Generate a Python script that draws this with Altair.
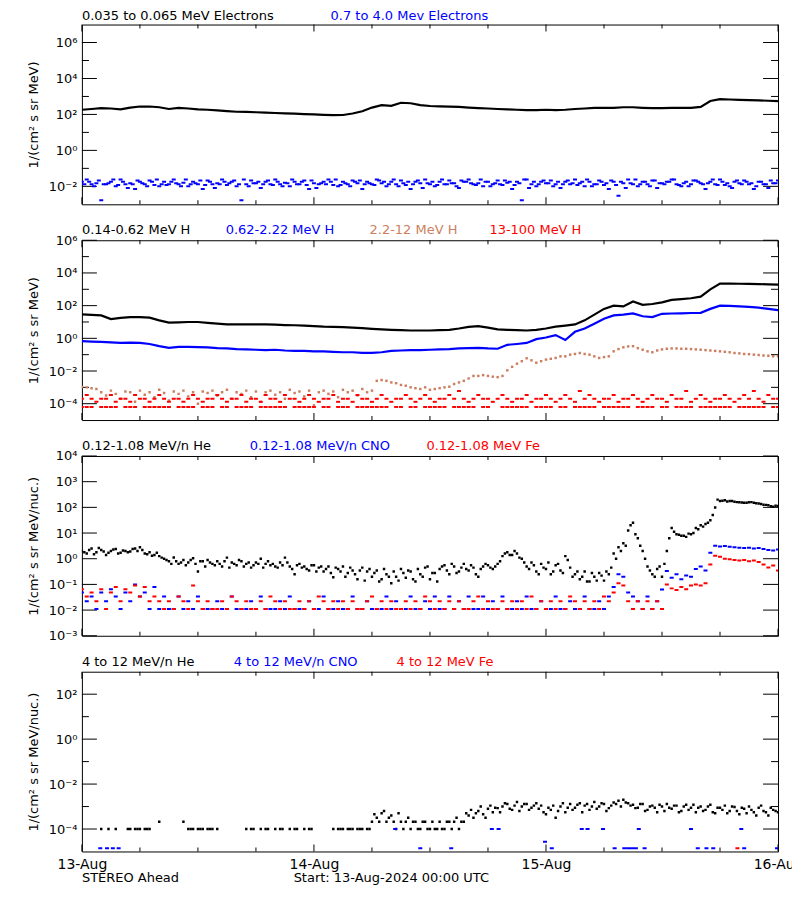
import altair as alt
import pandas as pd

# ---------------- time bases (hours after 13-Aug-2024 00:00 UTC) ----------------
HOURS = list(range(73))
HALF = [i * 0.5 for i in range(145)]
HALF_B = [i * 0.5 + 0.25 for i in range(144)]

# ---------------- panel 1 : electrons ----------------
e_lo = [182, 200, 224, 214, 190, 240, 275, 275, 251, 200, 229, 214, 190, 182, 166, 151, 141, 138, 132, 126,
        120, 115, 110, 105, 100, 95, 91, 93, 112, 151, 240, 331, 302, 447, 417, 331, 295, 282, 275, 263,
        240, 224, 214, 200, 190, 182, 174, 174, 182, 174, 182, 200, 214, 229, 229, 234, 251, 251, 234, 224,
        224, 229, 229, 234, 263, 562, 708, 676, 646, 631, 603, 575, 550]
e_hi = [0.018, 0.024, 0.013, 0.015, 0.0017, 0.013, 0.018, 0.010, 0.024, 0.013, 0.015, 0.007, 0.018, 0.013, 0.021, 0.012, 0.010, 0.018, 0.013, 0.024,
        0.013, 0.016, 0.010, 0.018, 0.013, 0.007, 0.021, 0.013, 0.015, 0.024, 0.012, 0.018, 0.010, 0.0017, 0.013, 0.021, 0.015, 0.008, 0.018, 0.013,
        0.024, 0.013, 0.016, 0.010, 0.018, 0.013, 0.021, 0.007, 0.015, 0.013, 0.018, 0.024, 0.012, 0.010, 0.018, 0.013, 0.021, 0.015, 0.007, 0.018,
        0.013, 0.024, 0.015, 0.010, 0.018, 0.013, 0.021, 0.012, 0.007, 0.018, 0.015, 0.024, 0.013, 0.010, 0.018, 0.013, 0.021, 0.015, 0.008, 0.018,
        0.024, 0.013, 0.015, 0.010, 0.018, 0.013, 0.021, 0.012, 0.016, 0.007, 0.018, 0.0017, 0.024, 0.013, 0.010, 0.018, 0.015, 0.021, 0.013, 0.008,
        0.018, 0.013, 0.024, 0.015, 0.010, 0.018, 0.013, 0.021, 0.012, 0.007, 0.018, 0.003, 0.015, 0.024, 0.013, 0.010, 0.018, 0.013, 0.021, 0.008,
        0.015, 0.018, 0.024, 0.013, 0.010, 0.018, 0.013, 0.021, 0.015, 0.007, 0.018, 0.013, 0.024, 0.012, 0.010, 0.018, 0.015, 0.021, 0.013, 0.007,
        0.018, 0.013, 0.008, 0.015, 0.021]
e_hi_b = [0.013, 0.018, 0.010, 0.021, 0.013, 0.015, 0.024, 0.012, 0.018, 0.008, 0.013, 0.021, 0.015, 0.010, 0.018, 0.024, 0.013, 0.012, 0.018, 0.015,
          0.010, 0.024, 0.013, 0.015, 0.021, 0.012, 0.018, 0.008, 0.013, 0.018, 0.015, 0.021, 0.013, 0.024, 0.010, 0.015, 0.018, 0.013, 0.021, 0.012,
          0.018, 0.010, 0.015, 0.024, 0.013, 0.018, 0.012, 0.021, 0.008, 0.015, 0.013, 0.018, 0.024, 0.012, 0.015, 0.010, 0.018, 0.021, 0.013, 0.015,
          0.012, 0.021, 0.018, 0.013, 0.024, 0.010, 0.015, 0.018, 0.013, 0.021, 0.008, 0.015, 0.018, 0.012, 0.024, 0.013, 0.015, 0.010, 0.021, 0.018,
          0.015, 0.012, 0.024, 0.018, 0.010, 0.015, 0.013, 0.021, 0.018, 0.012, 0.015, 0.024, 0.008, 0.018, 0.013, 0.021, 0.015, 0.010, 0.018, 0.013,
          0.021, 0.015, 0.012, 0.018, 0.024, 0.010, 0.013, 0.018, 0.015, 0.021, 0.012, 0.018, 0.008, 0.015, 0.024, 0.013, 0.018, 0.010, 0.021, 0.015,
          0.013, 0.018, 0.024, 0.012, 0.015, 0.010, 0.021, 0.018, 0.013, 0.015, 0.024, 0.012, 0.018, 0.015, 0.008, 0.021, 0.013, 0.018, 0.015, 0.010,
          0.018, 0.013, 0.021, 0.015]

# ---------------- panel 2 : protons ----------------
h_014 = [28.8, 27.5, 25.1, 15.1, 17.8, 20.0, 20.0, 18.6, 12.6, 9.1, 9.5, 10, 10, 8.9, 7.9, 7.2, 7.1, 7.1, 7.2, 7.1,
         6.8, 6.5, 6.3, 6.0, 5.6, 5.2, 5.0, 4.8, 4.5, 4.2, 3.8, 3.5, 3.3, 3.2, 3.0, 3.0, 3.0, 3.2, 3.3, 4.0,
         5.0, 5.5, 4.5, 3.5, 3.3, 3.2, 3.0, 3.3, 4.0, 5.2, 6.0, 7.1, 12.6, 28.2, 63, 100, 89, 178, 112, 126,
         158, 224, 251, 282, 355, 1000, 2239, 2239, 2188, 2138, 2089, 1995, 1950]
h_062 = [0.68, 0.63, 0.60, 0.56, 0.52, 0.55, 0.52, 0.45, 0.33, 0.26, 0.30, 0.30, 0.29, 0.28, 0.25, 0.24, 0.22, 0.21, 0.20, 0.19,
         0.20, 0.18, 0.17, 0.17, 0.16, 0.16, 0.15, 0.14, 0.14, 0.13, 0.13, 0.14, 0.17, 0.18, 0.19, 0.19, 0.20, 0.21, 0.22, 0.24,
         0.25, 0.26, 0.24, 0.23, 0.40, 0.45, 0.52, 0.89, 1.12, 1.58, 0.79, 2.5, 4.0, 7.9, 15.8, 25.1, 28.2, 33.1, 22.4, 20.0,
         31.6, 33.1, 33.9, 35.5, 36.3, 63.1, 100, 97.7, 91.2, 83.2, 75.9, 63.1, 52.5]
h_22 = [1.05e-3, 1.0e-3, 8.9e-4, 7.9e-4,
        5.0e-4, 3.2e-4, 6.3e-4, 4.0e-4, 2.0e-4, 5.6e-4, 5.0e-4, 1.3e-4, 6.3e-4, 3.5e-4,
        5.0e-4, 2.5e-4, 7.1e-4, 4.5e-4, 1.6e-4, 5.6e-4, 4.0e-4, 6.3e-4, 2.8e-4, 5.0e-4,
        1.0e-4, 5.6e-4, 4.5e-4, 6.3e-4, 3.2e-4, 5.0e-4, 7.1e-4, 2.0e-4, 5.0e-4, 4.0e-4,
        6.3e-4, 2.5e-4, 5.6e-4, 1.3e-4, 5.0e-4, 6.3e-4, 3.5e-4, 5.0e-4, 2.0e-4, 7.1e-4,
        4.5e-4, 5.6e-4, 2.8e-4, 6.3e-4, 7.9e-5, 5.0e-4, 6.3e-4, 4.0e-4, 5.6e-4, 2.5e-4,
        7.1e-4, 5.0e-4, 6.3e-4, 3.2e-4, 7.9e-4, 5.0e-4, 6.3e-4,
        2.5e-3, 2.8e-3, 2.5e-3, 2.0e-3, 1.8e-3, 1.4e-3, 1.26e-3, 1.0e-3, 8.9e-4, 7.9e-4,
        1.0e-3, 7.1e-4, 7.9e-4, 8.9e-4, 1.0e-3, 1.1e-3, 1.6e-3, 2.0e-3, 2.5e-3, 3.5e-3,
        5.0e-3, 5.0e-3, 5.6e-3, 5.0e-3, 4.5e-3, 4.2e-3, 5.0e-3, 0.011, 0.018, 0.028,
        0.040, 0.060, 0.045, 0.032, 0.040, 0.050, 0.056, 0.063, 0.079, 0.079,
        0.10, 0.11, 0.126, 0.11, 0.10, 0.079, 0.063, 0.071, 0.079, 0.16,
        0.22, 0.28, 0.32, 0.33, 0.25, 0.20, 0.16, 0.14, 0.18, 0.21,
        0.23, 0.24, 0.24, 0.23, 0.23, 0.22, 0.21, 0.20, 0.19, 0.18,
        0.17, 0.16, 0.15, 0.14, 0.126, 0.12, 0.11, 0.107, 0.10, 0.095,
        0.089, 0.085, 0.081, 0.079]
h_13 = [2.0e-4, 3.4e-4, 2.0e-4, 1.3e-4, 2.0e-4, 2.0e-4, 3.4e-4, 1.3e-4, 2.0e-4, 2.0e-4,
        1.3e-4, 3.4e-4, 2.0e-4, 2.0e-4, 1.3e-4, 2.0e-4, 3.4e-4, 2.0e-4, 1.3e-4, 2.0e-4,
        2.0e-4, 1.3e-4, 2.0e-4, 3.4e-4, 2.0e-4, 1.3e-4, 2.0e-4, 2.0e-4, 3.4e-4, 2.0e-4,
        1.3e-4, 2.0e-4, 2.0e-4, 3.4e-4, 1.3e-4, 2.0e-4, 2.0e-4, 1.3e-4, 3.4e-4, 2.0e-4,
        2.0e-4, 1.3e-4, 3.4e-4, 2.0e-4, 2.0e-4, 1.3e-4, 2.0e-4, 3.4e-4, 2.0e-4, 1.3e-4,
        2.0e-4, 2.0e-4, 3.4e-4, 1.3e-4, 2.0e-4, 2.0e-4, 1.3e-4, 3.4e-4, 2.0e-4, 2.0e-4,
        1.3e-4, 2.0e-4, 3.4e-4, 2.0e-4, 1.3e-4, 2.0e-4, 2.0e-4, 3.4e-4, 2.0e-4, 1.3e-4,
        2.0e-4, 3.4e-4, 2.0e-4, 1.3e-4, 2.0e-4, 2.0e-4, 3.4e-4, 2.0e-4, 6.0e-4, 2.0e-4,
        1.3e-4, 2.0e-4, 3.4e-4, 2.0e-4, 2.0e-4, 1.3e-4, 2.0e-4, 3.4e-4, 2.0e-4, 1.3e-4,
        2.0e-4, 2.0e-4, 3.4e-4, 1.3e-4, 2.0e-4, 2.0e-4, 3.4e-4, 2.0e-4, 1.3e-4, 2.0e-4,
        3.4e-4, 2.0e-4, 1.3e-4, 6.0e-4, 2.0e-4, 3.4e-4, 2.0e-4, 1.3e-4, 2.0e-4, 2.0e-4,
        3.4e-4, 1.3e-4, 2.0e-4, 2.0e-4, 3.4e-4, 2.0e-4, 1.3e-4, 2.0e-4, 3.4e-4, 2.0e-4,
        2.0e-4, 1.3e-4, 3.4e-4, 2.0e-4, 2.0e-4, 6.0e-4, 1.3e-4, 2.0e-4, 3.4e-4, 2.0e-4,
        1.3e-4, 2.0e-4, 2.0e-4, 3.4e-4, 2.0e-4, 1.3e-4, 2.0e-4, 3.4e-4, 2.0e-4, 6.0e-4,
        2.0e-4, 1.3e-4, 3.4e-4, 2.0e-4, 2.0e-4]
h_13_floor = [6.3e-5, 6.3e-5, 6.3e-5, None, 6.3e-5, 6.3e-5, 6.3e-5, 6.3e-5, None, 6.3e-5,
              6.3e-5, 6.3e-5, None, 6.3e-5, 6.3e-5, 6.3e-5, 6.3e-5, 6.3e-5, 6.3e-5, None,
              6.3e-5, 6.3e-5, 6.3e-5, 6.3e-5, None, 6.3e-5, 6.3e-5, 6.3e-5, None, 6.3e-5,
              6.3e-5, None, 6.3e-5, 6.3e-5, 6.3e-5, 6.3e-5, None, 6.3e-5, 6.3e-5, 6.3e-5,
              6.3e-5, 6.3e-5, 6.3e-5, None, 6.3e-5, 6.3e-5, 6.3e-5, 6.3e-5, 6.3e-5, None,
              6.3e-5, 6.3e-5, None, 6.3e-5, 6.3e-5, 6.3e-5, None, 6.3e-5, 6.3e-5, 6.3e-5,
              6.3e-5, 6.3e-5, 6.3e-5, 6.3e-5, None, 6.3e-5, 6.3e-5, None, 6.3e-5, 6.3e-5,
              None, 6.3e-5, 6.3e-5, 6.3e-5, 6.3e-5, 6.3e-5, None, 6.3e-5, 6.3e-5, 6.3e-5,
              6.3e-5, 6.3e-5, None, 6.3e-5, 6.3e-5, None, None, 6.3e-5, 6.3e-5, 6.3e-5,
              6.3e-5, 6.3e-5, 6.3e-5, None, 6.3e-5, 6.3e-5, 6.3e-5, 6.3e-5, None, 6.3e-5,
              6.3e-5, None, 6.3e-5, 6.3e-5, 6.3e-5, 6.3e-5, 6.3e-5, None, 6.3e-5, 6.3e-5,
              6.3e-5, 6.3e-5, 6.3e-5, 6.3e-5, None, 6.3e-5, 6.3e-5, 6.3e-5, 6.3e-5, None,
              6.3e-5, 6.3e-5, None, 6.3e-5, 6.3e-5, 6.3e-5, 6.3e-5, None, 6.3e-5, 6.3e-5,
              6.3e-5, 6.3e-5, 6.3e-5, 6.3e-5, 6.3e-5, None, 6.3e-5, 6.3e-5, 6.3e-5, 6.3e-5,
              6.3e-5, 6.3e-5, None, 6.3e-5, 6.3e-5]

# ---------------- panel 3 : 0.12-1.08 MeV/n heavy ions ----------------
he_lo = [2.0, 1.6, 2.5, 1.8, 2.2, 1.4, 2.0, 2.4, 1.7, 2.0, 1.9, 2.5, 2.8,
         1.6, 1.8, 1.4, 1.26,
         1.0, 0.79, 1.12, 0.63, 0.89, 0.71, 1.05, 0.32, 0.79,
         0.89, 0.63, 0.79, 0.5, 1.1, 0.71, 0.56, 0.79, 0.63, 0.45, 0.71, 1.0, 0.63,
         0.56, 0.5, 0.71, 1.1, 0.5, 0.25, 0.63,
         0.5, 0.35, 0.56, 0.45, 0.32, 0.5, 0.19,
         0.4, 0.5, 0.28, 0.35, 0.16, 0.45, 0.32,
         0.2, 0.35, 0.16, 0.25, 0.11, 0.2, 0.4,
         0.18, 0.32, 0.13, 0.25, 0.45, 0.16, 0.28,
         0.4, 0.56, 0.25, 0.5, 0.32, 0.63, 0.35, 0.45, 0.2, 0.5,
         0.56, 0.4, 0.63, 1.26,
         1.8, 1.4, 1.6,
         1.0, 0.5, 0.71, 0.32,
         0.63, 0.4, 0.25, 0.56, 0.35, 1.26, 0.45,
         0.25, 0.16, 0.32, 0.13, 0.2, 0.28, 0.14, 0.25,
         1.6, 2.8, 4.0,
         12.6, 25,
         6.3, 2.0,
         0.5, 0.25, 0.4, 0.2,
         2.0,
         15.8,
         8.9, 7.9, 7.1, 8.9,
         15.8, 20, 22.4, 31.6,
         98,
         178, 190, 178, 166,
         158, 151, 158, 151, 141,
         126, 120, 105, 112]
he_lo_b = [1.8, 2.2, 1.5, 2.6, 1.9, 1.7, 2.3, 1.6, 2.1, 1.8, 2.4, 2.0, 2.2,
           1.5, 1.3, 1.7, 1.1,
           0.89, 0.63, 0.79, 0.71, 0.56, 0.89, 0.63, 0.79, 0.5,
           0.71, 0.56, 0.63, 0.79, 0.45, 0.63, 0.89, 0.5, 0.71, 0.56, 0.63, 0.45, 0.79,
           0.63, 0.45, 0.56, 0.71, 0.4, 0.56, 0.45,
           0.4, 0.56, 0.32, 0.5, 0.4, 0.28, 0.45,
           0.32, 0.2, 0.45, 0.25, 0.35, 0.14, 0.4,
           0.28, 0.13, 0.4, 0.2, 0.32, 0.14, 0.28,
           0.35, 0.16, 0.4, 0.2, 0.5, 0.28, 0.13,
           0.5, 0.35, 0.63, 0.28, 0.45, 0.4, 0.56, 0.25, 0.4, 0.63,
           0.45, 0.5, 0.79, 1.6,
           1.4, 2.0, 1.1,
           0.71, 0.4, 0.56, 0.25,
           0.45, 0.71, 0.32, 0.63, 0.28, 0.89, 0.2,
           0.32, 0.2, 0.13, 0.28, 0.14, 0.22, 0.32, 0.45,
           1.0, 2.0, 3.2,
           20, 8.9,
           3.2, 1.0,
           0.35, 0.2, 0.5, 0.63,
           6.3,
           11.2, 8.5, 7.9, 9.5, 10,
           14, 17.8, 25, 50,
           200, 180, 170, 178, 160,
           155, 150, 160, 145, 135,
           125, 110, 115]
cno_lo = [0.048, 0.022, 0.034, 0.011, 0.048, 0.022, 0.065, 0.034, 0.011, 0.048, 0.022, 0.1, 0.034, 0.048, 0.011, 0.079,
          0.011, 0.034, 0.011, 0.011, 0.034, 0.011, 0.022, 0.011, 0.034, 0.011,
          0.011, 0.011, 0.022, 0.011, 0.011, 0.034, 0.011, 0.011, 0.011, 0.022,
          0.011, 0.034, 0.011, 0.011, 0.011, 0.022, 0.011, 0.034, 0.011, 0.011,
          0.011, 0.022, 0.011, 0.011, 0.034, 0.011, 0.011, 0.022, 0.011, 0.011,
          0.034, 0.011, 0.011, 0.022, 0.011, 0.011, 0.011, 0.034, 0.011, 0.022,
          0.011, 0.011, 0.034, 0.011, 0.011, 0.022, 0.011, 0.034, 0.011, 0.011,
          0.034, 0.011, 0.022, 0.011, 0.034, 0.011, 0.011, 0.034, 0.011, 0.022,
          0.011, 0.034, 0.011, 0.011, 0.022, 0.011, 0.034, 0.011, 0.011, 0.022,
          0.011, 0.011, 0.034, 0.011, 0.011, 0.022, 0.011, 0.011, 0.034, 0.011,
          0.011, 0.022, 0.011,
          0.034, 0.079, 0.25, 0.2, 0.048,
          0.034, 0.022, 0.011, 0.034, 0.011, 0.022, 0.063,
          0.33, 0.18, 0.25, 0.16, 0.22, 0.2,
          0.4, 0.5, 0.35, 1.7,
          3.2, 3.0, 3.1, 2.9, 2.8,
          2.7, 2.6, 2.7, 2.5, 2.6, 2.4, 2.2, 2.1, 2.3]
fe_lo = [0.065, 0.034, 0.048, 0.022, 0.065, 0.011, 0.048, 0.079, 0.022, 0.065, 0.048, 0.09, 0.034, 0.079, 0.022, 0.034,
         0.022, 0.011, 0.022, 0.011, 0.034, 0.022, 0.011, 0.09, 0.022, 0.011,
         0.022, 0.011, 0.011, 0.022, 0.011, 0.034, 0.022, 0.011, 0.022, 0.011,
         0.011, 0.022, 0.011, 0.034, 0.022, 0.011, 0.022, 0.011, 0.011, 0.022,
         0.011, 0.022, 0.011, 0.034, 0.022, 0.011, 0.022, 0.011, 0.022, 0.011,
         0.022, 0.011, 0.011, 0.022, 0.034, 0.011, 0.022, 0.011, 0.022, 0.011,
         0.011, 0.022, 0.011, 0.022, 0.011, 0.034, 0.022, 0.011, 0.022, 0.011,
         0.022, 0.011, 0.022, 0.011, 0.011, 0.022, 0.034, 0.011, 0.022, 0.011,
         0.011, 0.022, 0.011, 0.022, 0.011, 0.022, 0.011, 0.034, 0.011, 0.022,
         0.011, 0.022, 0.011, 0.022, 0.011, 0.034, 0.022, 0.011, 0.022, 0.011,
         0.022, 0.011, 0.034,
         0.022, 0.048, 0.11, 0.09, 0.022,
         0.011, 0.022, 0.011, 0.022, 0.011, 0.022, 0.011,
         0.1, 0.07, 0.06, 0.08, 0.065, 0.09,
         0.1, 0.09, 0.11, 0.6,
         1.3, 1.2, 1.0, 0.95, 0.9,
         0.85, 0.9, 0.8, 0.85, 0.75, 0.6, 0.45, 0.55, 0.35]

# ---------------- panel 4 : 4-12 MeV/n heavy ions ----------------
he_hi = [None, None, None, None, 1e-4, None, None, 1e-4, None, None, 1e-4, 1e-4, 1e-4, 1e-4, 1e-4, None,
         2.1e-4, None, None, None, None, 2.1e-4, 1e-4, 1e-4, 1e-4, 1e-4, 1e-4, 1e-4, 1e-4, None, None, None,
         None, None, 1e-4, 1e-4, None, 1e-4, 1e-4, None, 1e-4, 1e-4, None, 1e-4, 1e-4, None, 1e-4, 1e-4,
         None, None, None, None, 1e-4, 1e-4, 1e-4, 1e-4, 1e-4, 1e-4, 1e-4, 1e-4, 2.1e-4, 3.2e-4, 5.0e-4, 2.1e-4,
         4.0e-4, 1e-4, 2.1e-4, 2.1e-4, 1e-4, 2.1e-4, 1e-4, 2.1e-4, 1e-4, 1e-4, 2.1e-4, 1e-4, 2.1e-4, 2.1e-4, 1e-4, 2.1e-4,
         4.0e-4, 3.2e-4, 6.3e-4, 4.5e-4, 7.9e-4, 5.6e-4, 8.5e-4, 1.0e-3, 1.3e-3, 7.1e-4, 1.6e-3, 1.0e-3, 1.3e-3, 8.9e-4, 1.4e-3, 1.1e-3,
         4.5e-4, 7.1e-4, 3.2e-4, 1.0e-3, 5.6e-4, 1.3e-3, 8.9e-4, 1.4e-3, 1.1e-3, 7.1e-4, 1.6e-3, 1.0e-3, 1.3e-3, 8.5e-4, 1.5e-3, 1.8e-3,
         2.0e-3, 1.4e-3, 1.2e-3, 8.9e-4, 1.3e-3, 7.1e-4, 1.1e-3, 5.6e-4, 1.0e-3, 1.3e-3, 7.9e-4, 1.1e-3, 6.3e-4, 1.2e-3, 8.9e-4, 5.6e-4,
         1.0e-3, 7.1e-4, 1.2e-3, 5.0e-4, 8.9e-4, 1.1e-3, 6.3e-4, 9.5e-4, 4.5e-4, 7.9e-4, 1.0e-3, 5.6e-4, 8.9e-4, 6.3e-4, 4.0e-4, 7.1e-4, 5.6e-4]
he_hi_b = [None, None, None, None, None, 1e-4, None, None, None, 1e-4, None, 1e-4, None, 1e-4, None, None,
           None, None, None, None, None, None, 1e-4, None, 1e-4, None, 1e-4, None, None, None, None, None,
           None, None, None, 1e-4, None, None, 1e-4, None, None, 1e-4, None, None, 1e-4, None, None, 1e-4,
           None, None, None, None, None, 1e-4, None, 1e-4, None, 1e-4, None, 1e-4, 4.5e-4, 2.1e-4, 6.3e-4, 3.2e-4,
           2.1e-4, 5.0e-4, 1e-4, 3.2e-4, 2.1e-4, 1e-4, 2.1e-4, 1e-4, 2.1e-4, 1e-4, 1e-4, 2.1e-4, 1e-4, 3.2e-4, 2.1e-4, 5.0e-4,
           7.1e-4, 5.0e-4, 1.0e-3, 3.2e-4, 1.1e-3, 8.9e-4, 5.6e-4, 1.4e-3, 7.9e-4, 1.1e-3, 6.3e-4, 1.3e-3, 7.1e-4, 1.1e-3, 7.9e-4, 5.6e-4,
           8.9e-4, 1.1e-3, 6.3e-4, 1.4e-3, 8.9e-4, 7.1e-4, 1.2e-3, 5.6e-4, 1.3e-3, 1.0e-3, 7.9e-4, 1.4e-3, 6.3e-4, 1.1e-3, 1.3e-3, 1.0e-3,
           1.5e-3, 1.1e-3, 8.5e-4, 1.3e-3, 6.3e-4, 1.0e-3, 8.9e-4, 1.2e-3, 6.3e-4, 8.9e-4, 1.1e-3, 5.6e-4, 1.0e-3, 7.1e-4, 1.2e-3, 8.9e-4,
           6.3e-4, 1.0e-3, 5.6e-4, 8.9e-4, 7.1e-4, 5.0e-4, 1.0e-3, 6.3e-4, 8.9e-4, 5.0e-4, 7.1e-4, 4.0e-4, 1.1e-3, 5.6e-4, 8.9e-4, 6.3e-4]
cno_hi_t = [1.9, 2.6, 3.2, 3.8, 32.4, 35.0, 38.2, 42.4, 43.1, 47.9, 48.6, 51.7, 52.3, 53.9, 55.1, 56.1, 56.5, 56.9,
            57.3, 57.6, 58.2, 63.0, 63.7, 64.6, 65.3, 68.2, 68.5, 71.9]
cno_hi_v = [1.4e-5, 1.4e-5, 1.4e-5, 1.4e-5, 1e-4, 1.4e-5, 1.4e-5, 1e-4, 1e-4, 2.7e-5, 1.4e-5, 1e-4, 1e-4, 1e-4,
            1.4e-5, 1.4e-5, 1.4e-5, 1.4e-5, 1.4e-5, 1e-4, 1.4e-5, 1e-4, 1.4e-5, 1.4e-5, 1.4e-5, 1e-4, 1.4e-5, 1.4e-5]
fe_hi_t = [67.8]
fe_hi_v = [1.4e-5]

# ---------------- axes ----------------
day_ticks = [0, 24, 48, 72]
six_hour_ticks = [6, 12, 18, 30, 36, 42, 54, 60, 66]
day_labels = ['13-Aug', '14-Aug', '15-Aug', '16-Aug']

BLACK, BLUE, BROWN, RED = '#000000', '#0000ff', '#cc7f60', '#ff0000'
W, H = 697, 180
XS = alt.Scale(domain=[0, 72], nice=False, zero=False)

SUP = "['\u2070','\u00b9','\u00b2','\u00b3','\u2074','\u2075','\u2076','\u2077','\u2078','\u2079']"
EXP = "round(log(datum.value)/LN10)"
LOG_LABEL = "'10' + (" + EXP + " < 0 ? '\u207b' : '') + " + SUP + "[abs(" + EXP + ")]"
X_LABEL = "[" + ",".join("'" + d + "'" for d in day_labels) + "][round(datum.value/24)]"


def panel(domain, major, minor, ytitle, data_layers, titles, show_x, footers=()):
    ys = alt.Scale(type='log', domain=domain, nice=False)
    anchor = pd.DataFrame({'t': [36.0], 'v': [1.0]})
    yaxis = alt.Axis(orient='left', values=major, ticks=False, tickSize=0, domain=False, grid=False,
                     labelExpr=LOG_LABEL, labelFontSize=13, labelPadding=5, labelColor='black',
                     labelOverlap=False, title=ytitle, titleFontSize=13, titleFontWeight='normal',
                     titleColor='black', titlePadding=8)
    if show_x:
        xaxis = alt.Axis(orient='bottom', values=day_ticks, ticks=False, tickSize=0, domain=False, grid=False,
                         labelExpr=X_LABEL, labelFontSize=14, labelPadding=6, labelFlush=False,
                         labelColor='black', labelOverlap=False, title=None)
    else:
        xaxis = None
    layers = [alt.Chart(anchor).mark_point(opacity=0).encode(
        x=alt.X('t:Q', scale=XS, axis=xaxis), y=alt.Y('v:Q', scale=ys, axis=yaxis))]

    # inward IDL-style tick marks on all four sides
    for vals, size in ((major, 15), (minor, 7)):
        if vals:
            tdf = pd.DataFrame({'v': vals})
            for pos in (size / 2, W - size / 2):
                layers.append(alt.Chart(tdf).mark_tick(orient='horizontal', size=size, thickness=1,
                                                       color='black', opacity=1).encode(
                    y=alt.Y('v:Q', scale=ys, axis=None), x=alt.value(pos)))
    for vals, size in ((day_ticks, 7), (six_hour_ticks, 4)):
        tdf = pd.DataFrame({'t': vals})
        for pos in (size / 2, H - size / 2):
            layers.append(alt.Chart(tdf).mark_tick(orient='vertical', size=size, thickness=1,
                                                   color='black', opacity=1).encode(
                x=alt.X('t:Q', scale=XS, axis=None), y=alt.value(pos)))

    for kind, color, t, v in data_layers:
        df = pd.DataFrame({'t': t, 'v': v}).dropna()
        base = alt.Chart(df)
        if kind == 'line':
            m = base.mark_line(color=color, strokeWidth=2.2, clip=True)
        elif kind == 'dot':
            m = base.mark_square(color=color, size=6, opacity=1, clip=True)
        else:
            m = base.mark_tick(color=color, orient='horizontal', size=4, thickness=2, opacity=1, clip=True)
        layers.append(m.encode(x=alt.X('t:Q', scale=XS, axis=None),
                               y=alt.Y('v:Q', scale=ys, axis=None)))
    for label, px, py, color in list(titles) + list(footers):
        layers.append(alt.Chart(pd.DataFrame({'label': [label]})).mark_text(
            align='left', baseline='middle', fontSize=13, color=color).encode(
            x=alt.value(px), y=alt.value(py), text='label:N'))
    return alt.layer(*layers).resolve_axis(x='independent', y='independent').properties(width=W, height=H)


p1 = panel([1e-3, 1e7], [1e-2, 1, 1e2, 1e4, 1e6], [1e-1, 10, 1e3, 1e5], '1/(cm\u00b2 s sr MeV)',
           [('line', BLACK, HOURS, e_lo), ('tick', BLUE, HALF, e_hi), ('tick', BLUE, HALF_B, e_hi_b)],
           [('0.035 to 0.065 MeV Electrons', 0, -9, BLACK), ('0.7 to 4.0 Mev Electrons', 249, -9, BLUE)], False)
p2 = panel([1e-5, 1e6], [1e-4, 1e-2, 1, 1e2, 1e4, 1e6], [1e-3, 1e-1, 10, 1e3, 1e5], '1/(cm\u00b2 s sr MeV)',
           [('line', BLACK, HOURS, h_014), ('line', BLUE, HOURS, h_062), ('dot', BROWN, HALF, h_22),
            ('tick', RED, HALF, h_13), ('tick', RED, HALF, h_13_floor)],
           [('0.14-0.62 MeV H', 0, -10, BLACK), ('0.62-2.22 MeV H', 144, -10, BLUE),
            ('2.2-12 MeV H', 288, -10, BROWN), ('13-100 MeV H', 408, -10, RED)], False)
p3 = panel([1e-3, 1e4], [1e-3, 1e-2, 1e-1, 1, 10, 1e2, 1e3, 1e4], [], '1/(cm\u00b2 s sr MeV/nuc.)',
           [('dot', BLACK, HALF, he_lo), ('dot', BLACK, HALF_B, he_lo_b),
            ('tick', BLUE, HALF, cno_lo), ('tick', RED, HALF, fe_lo)],
           [('0.12-1.08 MeV/n He', 0, -10, BLACK), ('0.12-1.08 MeV/n CNO', 168, -10, BLUE),
            ('0.12-1.08 MeV Fe', 345, -10, RED)], False)
p4 = panel([1e-5, 1e3], [1e-4, 1e-2, 1, 1e2], [1e-3, 1e-1, 10], '1/(cm\u00b2 s sr MeV/nuc.)',
           [('dot', BLACK, HALF, he_hi), ('dot', BLACK, HALF_B, he_hi_b),
            ('tick', BLUE, cno_hi_t, cno_hi_v), ('tick', RED, fe_hi_t, fe_hi_v)],
           [('4 to 12 MeV/n He', 0, -10, BLACK), ('4 to 12 MeV/n CNO', 152, -10, BLUE),
            ('4 to 12 MeV Fe', 315, -10, RED)], True,
           footers=[('STEREO Ahead', 0, 207, BLACK), ('Start: 13-Aug-2024 00:00 UTC', 212, 207, BLACK)])

chart = alt.vconcat(p1, p2, p3, p4, spacing=36, bounds='flush').properties(
    padding={'left': 18, 'top': 0, 'right': -12, 'bottom': 0}
).configure(font='DejaVu Sans', background='white').configure_view(stroke='black', strokeWidth=1)

chart.save("out.html", embed_options={"renderer": "svg", "actions": False})
